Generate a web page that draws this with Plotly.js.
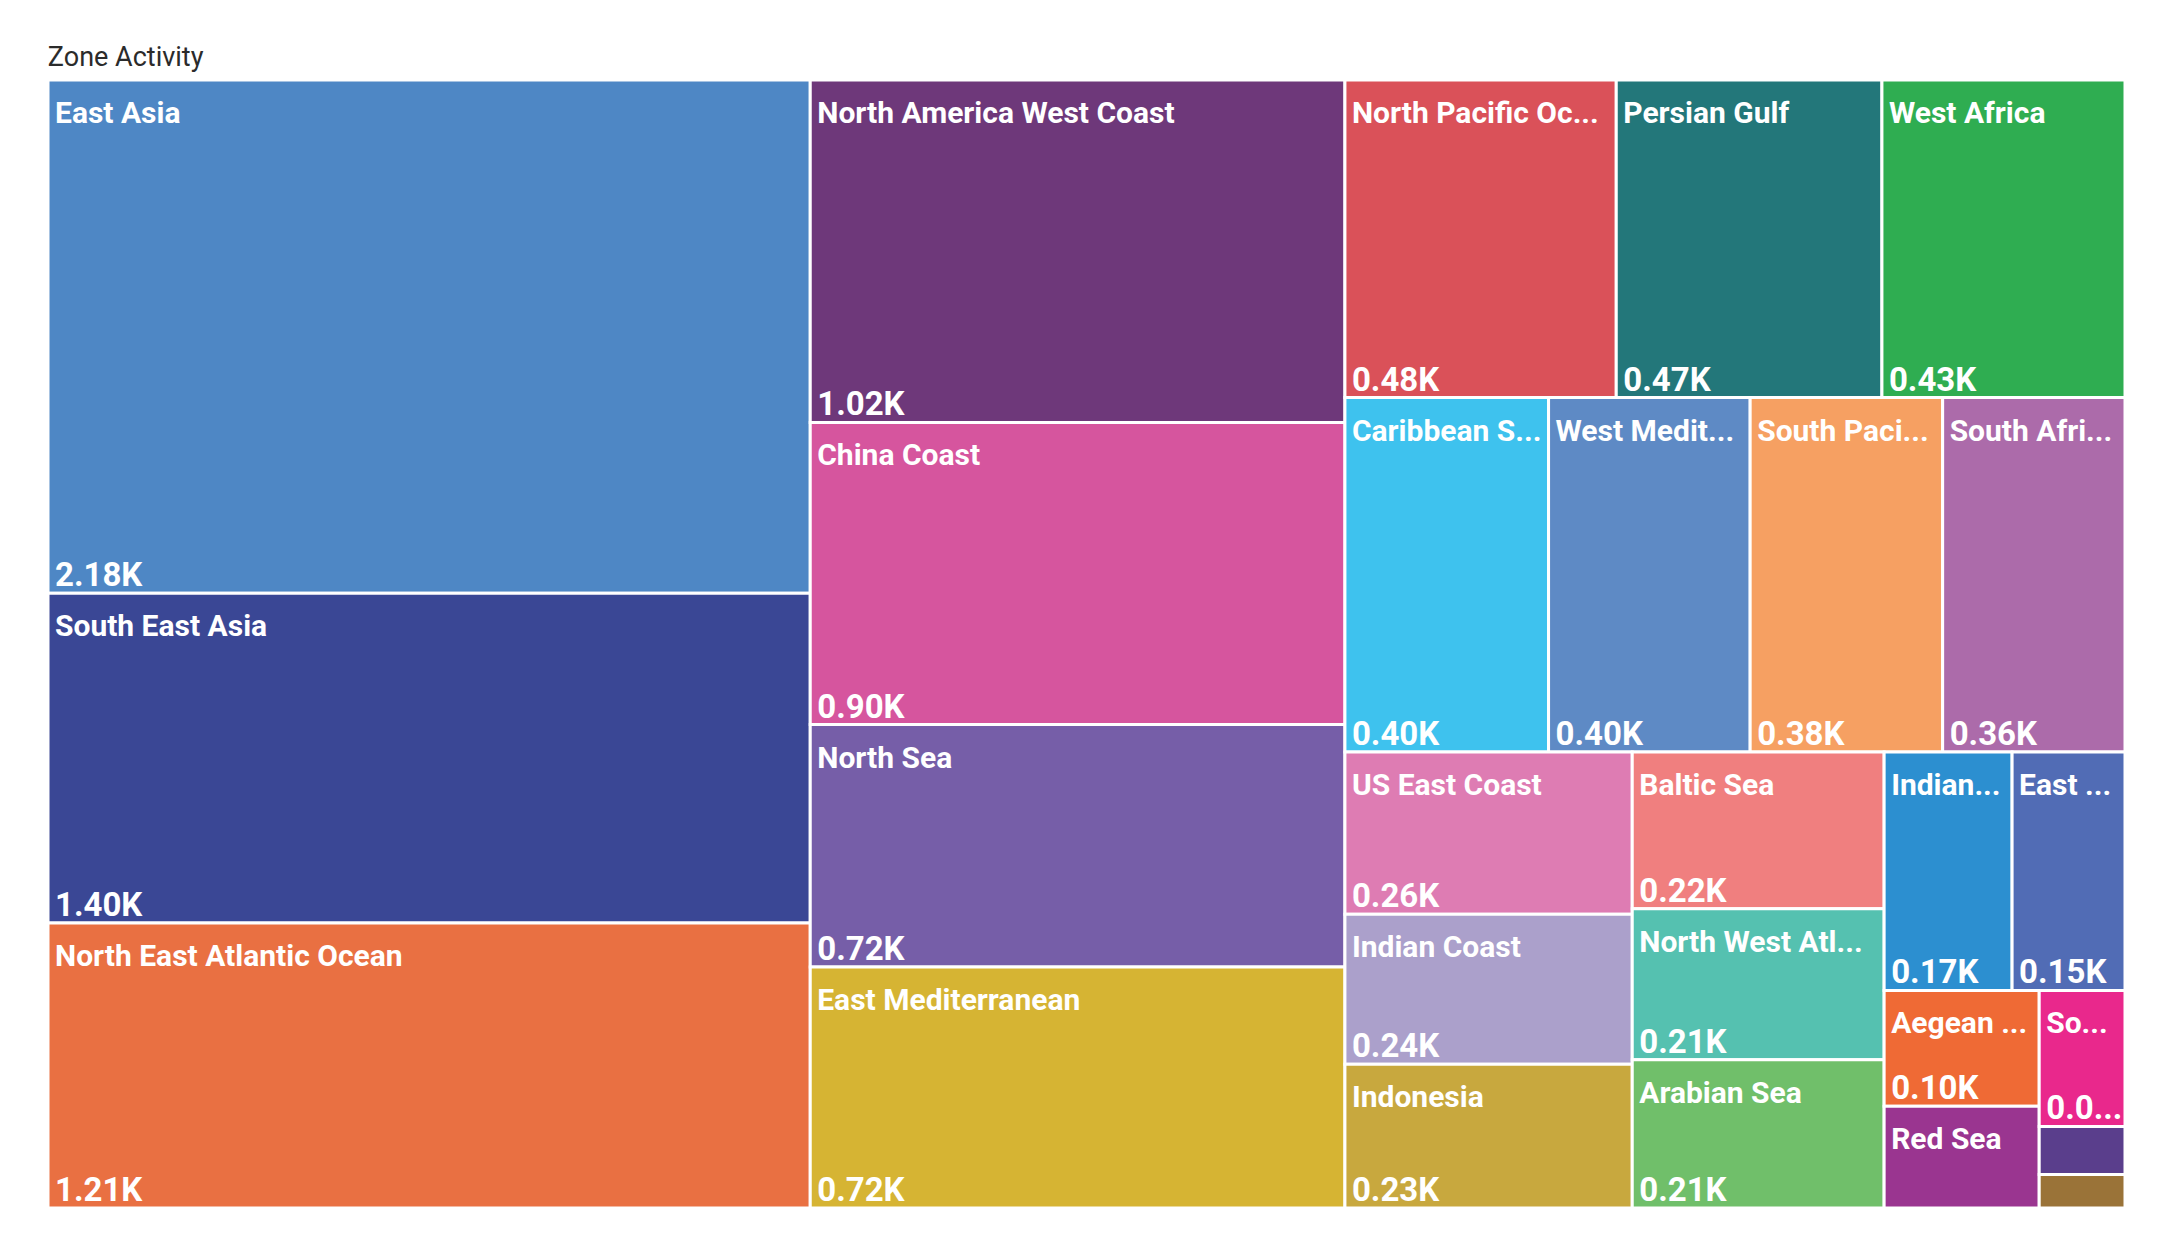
<!DOCTYPE html>
<html>
<head>
<meta charset="utf-8">
<script src="https://cdn.plot.ly/plotly-3.0.1.min.js"></script>
<style>html,body{margin:0;padding:0;background:#fff;}#chart{width:2175px;height:1258px;}</style>
</head>
<body>
<div id="chart"></div>
<script>
const zones = ["East Asia","South East Asia","North East Atlantic Ocean","North America West Coast","China Coast","North Sea","East Mediterranean","North Pacific Ocean","Persian Gulf","West Africa","Caribbean Sea","West Mediterranean","South Pacific Ocean","South Africa","US East Coast","Indian Coast","Indonesia","Baltic Sea","North West Atlantic","Arabian Sea","Indian Ocean","East Africa","Aegean Sea","Red Sea","Somali Coast","Black Sea","Gulf of Mexico"];
const activity = [2180,1400,1210,1020,900,722,718,480,470,430,402,398,380,360,260,240,230,220,212,208,170,150,100,88,65,23,16];
const shownNames = ["East Asia","South East Asia","North East Atlantic Ocean","North America West Coast","China Coast","North Sea","East Mediterranean","North Pacific Oc...","Persian Gulf","West Africa","Caribbean S...","West Medit...","South Paci...","South Afri...","US East Coast","Indian Coast","Indonesia","Baltic Sea","North West Atl...","Arabian Sea","Indian...","East ...","Aegean ...","Red Sea","So...","",""];
const shownValues = ["2.18K","1.40K","1.21K","1.02K","0.90K","0.72K","0.72K","0.48K","0.47K","0.43K","0.40K","0.40K","0.38K","0.36K","0.26K","0.24K","0.23K","0.22K","0.21K","0.21K","0.17K","0.15K","0.10K","","0.0...","",""];
const colors = ["#4E87C5","#3A4795","#E97042","#6E387A","#D6559E","#765EA8","#D6B433","#DA5159","#23777A","#2FAD51","#3EC2EE","#5E8AC5","#F6A062","#AC6BAA","#DE7CB3","#ABA0CB","#C8A83E","#F07F7F","#55C1B0","#70BF6A","#2C8FD0","#516CB5","#EF6A35","#9A3590","#E9288C","#5A3E8C","#9A7338"];

// plot area geometry (px)
const W = 2175, H = 1258;
const tileW = 2077, tileH = 1128;          // size of the tile area
const tilesTop = 4;                        // tiles offset inside plot area
const labDx = 4, labTop = tilesTop + 12;   // label text: right 4, down 12
const valDx = 4, valTop = tilesTop + 4;    // value text: right 4, down 4
const mL = 48, mR = 46, mT = 80 - tilesTop, mB = 30;
const PW = W - mL - mR, PH = H - mT - mB;

const parents = zones.map(() => "");
const nopad = {t: 0, l: 0, r: 0, b: 0};
const clear = zones.map(() => "rgba(0,0,0,0)");
function base(x0, yTop) {
  return {
    type: "treemap",
    labels: zones,
    parents: parents,
    values: activity,
    sort: true,
    tiling: {packing: "squarify", squarifyratio: 1.618, pad: 0},
    pathbar: {visible: false},
    domain: {x: [x0 / PW, (x0 + tileW) / PW], y: [1 - (yTop + tileH) / PH, 1 - yTop / PH]}
  };
}
const tilesTrace = Object.assign(base(0, tilesTop), {
  textinfo: "none",
  marker: {colors: colors, line: {color: "#ffffff", width: 3}, pad: nopad},
  hoverinfo: "label+value"
});
const labelsTrace = Object.assign(base(labDx, labTop), {
  text: shownNames,
  texttemplate: "%{text}",
  textposition: "top left",
  textfont: {family: "Roboto", size: 30, color: "#ffffff", weight: "bold"},
  marker: {colors: clear, line: {color: "rgba(0,0,0,0)", width: 3}, pad: nopad},
  hoverinfo: "skip"
});
const valuesTrace = Object.assign(base(valDx, valTop), {
  text: shownValues,
  texttemplate: "%{text}",
  textposition: "bottom left",
  textfont: {family: "Roboto", size: 33, color: "#ffffff", weight: "bold"},
  marker: {colors: clear, line: {color: "rgba(0,0,0,0)", width: 3}, pad: nopad},
  hoverinfo: "skip"
});

const layout = {
  width: W, height: H,
  margin: {l: mL, r: mR, t: mT, b: mB},
  paper_bgcolor: "#ffffff",
  title: {text: "Zone Activity", x: 0.022, xanchor: "left", y: 0.955, yanchor: "middle",
          font: {family: "Roboto", size: 27, color: "#2b2b2b"}},
  showlegend: false
};
Plotly.newPlot("chart", [tilesTrace, labelsTrace, valuesTrace], layout, {displayModeBar: false});
</script>
</body>
</html>
